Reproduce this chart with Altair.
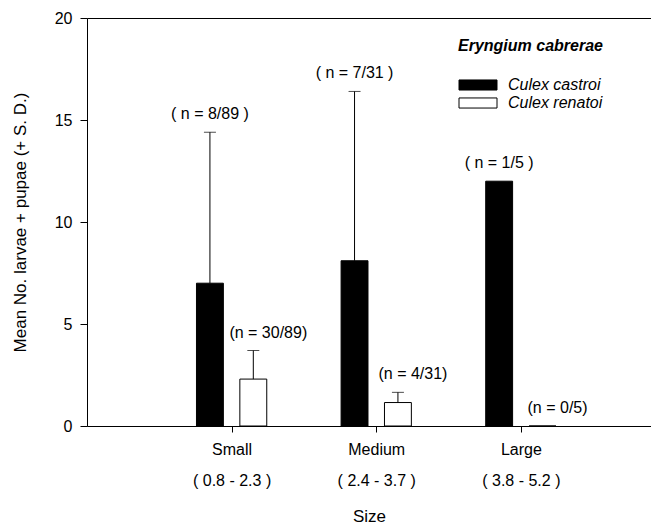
import altair as alt
import pandas as pd

sizes = ["Small", "Medium", "Large"]
size_pos = [1, 2, 3]
ranges = ["( 0.8 - 2.3 )", "( 2.4 - 3.7 )", "( 3.8 - 5.2 )"]
species = ["Culex castroi", "Culex renatoi"]
castroi_mean = [7.0, 8.1, 12.0]
castroi_sd = [7.4, 8.3, 0.0]
renatoi_mean = [2.3, 1.15, 0.0]
renatoi_sd = [1.4, 0.5, 0.0]
castroi_n = ["( n = 8/89 )", "( n = 7/31 )", "( n = 1/5 )"]
renatoi_n = ["(n = 30/89)", "(n = 4/31)", "(n = 0/5)"]

rows = []
for i, s in enumerate(sizes):
    rows.append(dict(size=s, pos=size_pos[i], species=species[0], mean=castroi_mean[i],
                     sd=castroi_sd[i], label=castroi_n[i], side=-1))
    rows.append(dict(size=s, pos=size_pos[i], species=species[1], mean=renatoi_mean[i],
                     sd=renatoi_sd[i], label=renatoi_n[i], side=1))
df = pd.DataFrame(rows)

FONT = "Liberation Sans"
W, H = 564, 408
OFF, HALF = 0.15, 0.093

label_expr = " : ".join(
    f"datum.value == {p} ? ['{s}', '{r}']" for p, s, r in zip(size_pos, sizes, ranges)
) + " : ''"

xscale = alt.Scale(domain=[0, 3.9], nice=False, zero=False)
yscale = alt.Scale(domain=[0, 20], nice=False)

base = alt.Chart(df).transform_calculate(
    xc=f"datum.pos + datum.side * {OFF}",
    x0=f"datum.pos + datum.side * {OFF} - {HALF}",
    x1=f"datum.pos + datum.side * {OFF} + {HALF}",
    top="datum.mean + datum.sd",
)

xaxis = alt.Axis(values=size_pos, labelExpr=label_expr, labelLineHeight=31, title="Size",
                 tickSize=6, labelPadding=9, titlePadding=20, grid=False,
                 domainColor="black", tickColor="black", labelColor="black",
                 labelFontSize=16, titleFontSize=17, labelFont=FONT, titleFont=FONT,
                 titleFontWeight="normal", labelBaseline="top")
yaxis = alt.Axis(values=[0, 5, 10, 15, 20], title="Mean No. larvae + pupae (+ S. D.)",
                 tickSize=7, labelPadding=8, titlePadding=25, grid=False,
                 domainColor="black", tickColor="black", labelColor="black",
                 labelFontSize=16, titleFontSize=17, labelFont=FONT, titleFont=FONT,
                 titleFontWeight="normal")

bars = base.mark_bar(stroke="black", strokeWidth=1).encode(
    x=alt.X("x0:Q", scale=xscale, axis=xaxis),
    x2="x1:Q",
    y=alt.Y("mean:Q", scale=yscale, axis=yaxis),
    y2=alt.datum(0),
    fill=alt.Fill("species:N", scale=alt.Scale(domain=species, range=["black", "white"]),
                  legend=alt.Legend(
                      title="Eryngium cabrerae", orient="none", legendX=371, legendY=20,
                      titleFont=FONT, titleFontSize=16, titleFontStyle="italic",
                      titleFontWeight="bold", titleColor="black", titlePadding=21,
                      labelFont=FONT, labelFontSize=16, labelFontStyle="italic",
                      labelColor="black", labelOffset=20,
                      symbolType="M-2,-0.53H2V0.53H-2Z", symbolSize=361, symbolOffset=10,
                      symbolStrokeColor="black", symbolStrokeWidth=1, rowPadding=-3)),
)

X_C = alt.X("xc:Q", scale=xscale, axis=None)

err = base.transform_filter("datum.sd > 0").mark_rule(color="black", strokeWidth=1).encode(
    x=X_C, y=alt.Y("mean:Q", scale=yscale), y2="top:Q")

caps = base.transform_filter("datum.sd > 0").mark_tick(
    color="black", thickness=1, size=12, orient="horizontal").encode(
    x=X_C, y=alt.Y("top:Q", scale=yscale))

lab_c = base.transform_filter("datum.side < 0").mark_text(
    font=FONT, fontSize=16, color="black", dy=-13, baseline="alphabetic").encode(
    x=X_C, y=alt.Y("top:Q", scale=yscale), text="label:N")

lab_r = base.transform_filter("datum.side > 0").mark_text(
    font=FONT, fontSize=16, color="black", dy=-13, dx=15, baseline="alphabetic").encode(
    x=X_C, y=alt.Y("top:Q", scale=yscale), text="label:N")

# top frame line drawn as a bare top axis (no ticks, no labels)
topframe = alt.Chart(df).mark_point(opacity=0).encode(
    x=alt.X("pos:Q", scale=xscale,
            axis=alt.Axis(orient="top", values=[], labels=False, ticks=False,
                          title=None, grid=False, domainColor="black", domainWidth=1)),
    y=alt.Y("mean:Q", scale=yscale),
)

chart = alt.layer(bars, err, caps, lab_c, lab_r, topframe).resolve_axis(
    x="independent"
).properties(
    width=W, height=H,
    autosize=alt.AutoSizeParams(type="none"),
    padding={"left": 79, "top": 10, "right": 0, "bottom": 101},
).configure_view(stroke=None).configure(background="white")

chart.save("out.html", embed_options={"renderer": "svg", "actions": False})
